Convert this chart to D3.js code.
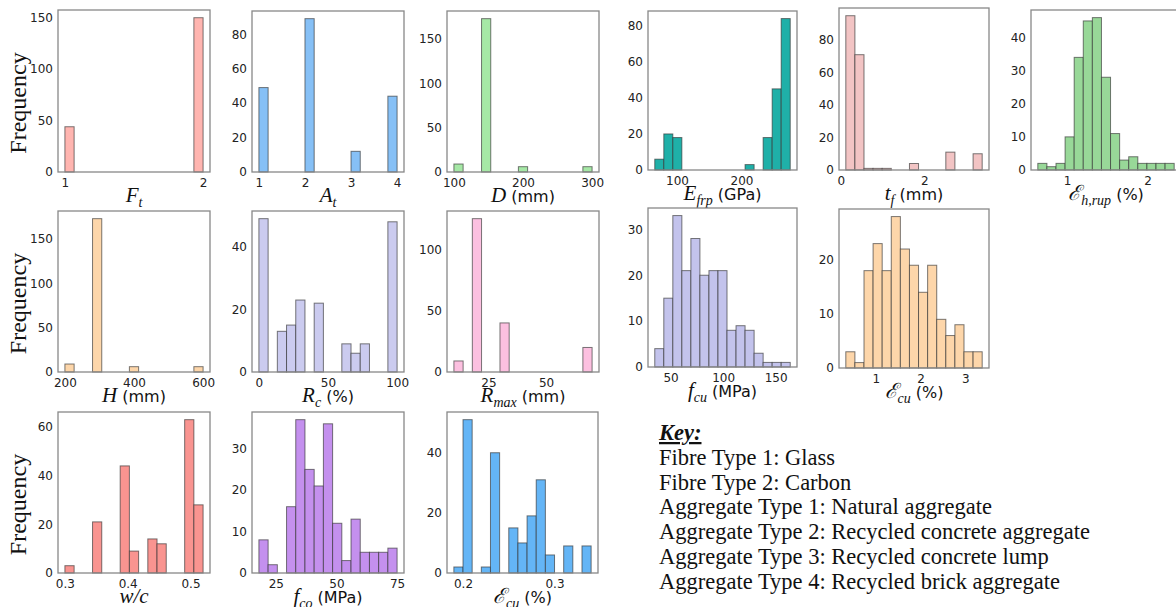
<!DOCTYPE html>
<html>
<head>
<meta charset="utf-8">
<script src="https://cdn.jsdelivr.net/npm/d3@7"></script>
<style>
  body { margin: 0; background: #fff; }
  .tick text { font-family: "DejaVu Sans", sans-serif; font-size: 12px; fill: #222; }
  .math { font-family: "Liberation Serif", serif; font-style: italic; font-size: 21px; }
  .sub { font-family: "Liberation Serif", serif; font-style: italic; font-size: 14px; }
  .unit { font-family: "DejaVu Sans", sans-serif; font-size: 16px; }
  .ylab { font-family: "Liberation Serif", serif; font-size: 24px; }
  .key { font-family: "Liberation Serif", serif; font-size: 22.5px; fill: #111; }
</style>
</head>
<body>
<svg id="fig"></svg>
<script>
// frequency per histogram bin (15 equal bins between the range ends)
const ftCounts = [44, 0, 0, 0, 0, 0, 0, 0, 0, 0, 0, 0, 0, 0, 150];
const atCounts = [49, 0, 0, 0, 0, 89, 0, 0, 0, 0, 12, 0, 0, 0, 44];
const dCounts = [9, 0, 0, 173, 0, 0, 0, 6, 0, 0, 0, 0, 0, 0, 6];
const efrpCounts = [6, 20, 18, 0, 0, 0, 0, 0, 0, 0, 3, 0, 18, 45, 84];
const tfCounts = [95, 71, 1, 1, 1, 0, 0, 4, 0, 0, 0, 11, 0, 0, 10];
const ehCounts = [2, 1, 2, 10, 34, 45, 46, 28, 11, 3, 4, 2, 2, 2, 2];
const hCounts = [9, 0, 0, 173, 0, 0, 0, 6, 0, 0, 0, 0, 0, 0, 6];
const rcCounts = [49, 0, 13, 15, 23, 0, 22, 0, 0, 9, 6, 9, 0, 0, 48];
const rmaxCounts = [9, 0, 125, 0, 0, 40, 0, 0, 0, 0, 0, 0, 0, 0, 20];
const fcuCounts = [4, 15, 33, 21, 28, 20, 21, 21, 8, 9, 8, 3, 1, 1, 1];
const ecuCounts = [3, 1, 18, 23, 18, 28, 22, 19, 14, 19, 9, 6, 8, 3, 3];
const wcCounts = [3, 0, 0, 21, 0, 0, 44, 9, 0, 14, 12, 0, 0, 63, 28];
const fcoCounts = [8, 2, 0, 16, 37, 25, 21, 36, 12, 3, 13, 5, 5, 5, 6];
const ecu2Counts = [2, 51, 0, 2, 40, 0, 15, 10, 19, 31, 6, 0, 9, 0, 9];

// min / max of each variable (outer bin edges)
const ftRange = [1, 2];
const atRange = [1, 4];
const dRange = [100, 300];
const efrpRange = [65.5, 275.5];
const tfRange = [0.12, 3.39];
const ehRange = [0.637, 2.332];
const hRange = [200, 600];
const rcRange = [0, 100];
const rmaxRange = [10, 70];
const fcuRange = [34.9, 163.9];
const ecuRange = [0.33, 3.38];
const wcRange = [0.3, 0.52];
const fcoRange = [18, 75];
const ecu2Range = [0.19, 0.34];

// tick labels
const ftX = [1, 2], ftY = [0, 50, 100, 150];
const atX = [1, 2, 3, 4], atY = [0, 20, 40, 60, 80];
const dX = [100, 200, 300], dY = [0, 50, 100, 150];
const efrpX = [100, 200], efrpY = [0, 20, 40, 60, 80];
const tfX = [0, 2], tfY = [0, 20, 40, 60, 80];
const ehX = [1, 2], ehY = [0, 10, 20, 30, 40];
const hX = [200, 400, 600], hY = [0, 50, 100, 150];
const rcX = [0, 50, 100], rcY = [0, 20, 40];
const rmaxX = [25, 50], rmaxY = [0, 50, 100];
const fcuX = [50, 100, 150], fcuY = [0, 10, 20, 30];
const ecuX = [1, 2, 3], ecuY = [0, 10, 20];
const wcX = [0.3, 0.4, 0.5], wcY = [0, 20, 40, 60];
const fcoX = [25, 50, 75], fcoY = [0, 10, 20, 30];
const ecu2X = [0.2, 0.3], ecu2Y = [0, 20, 40];

const keyLines = [
  'Fibre Type 1: Glass',
  'Fibre Type 2: Carbon',
  'Aggregate Type 1: Natural aggregate',
  'Aggregate Type 2: Recycled concrete aggregate',
  'Aggregate Type 3: Recycled concrete lump',
  'Aggregate Type 4: Recycled brick aggregate',
];

const panels = [
  { counts: ftCounts, range: ftRange, xt: ftX, yt: ftY, color: '#ffb5b0', box: [58, 10, 210, 172], label: [['F', 'math'], ['t', 'sub']] },
  { counts: atCounts, range: atRange, xt: atX, yt: atY, color: '#86c0f6', box: [252, 11, 404, 172], label: [['A', 'math'], ['t', 'sub']] },
  { counts: dCounts, range: dRange, xt: dX, yt: dY, color: '#a6e8a6', box: [447, 11, 599, 172], label: [['D', 'math'], [' (mm)', 'unit']] },
  { counts: efrpCounts, range: efrpRange, xt: efrpX, yt: efrpY, color: '#1fb0a8', box: [648, 11, 797, 170], label: [['E', 'math'], ['frp', 'sub'], [' (GPa)', 'unit']] },
  { counts: tfCounts, range: tfRange, xt: tfX, yt: tfY, color: '#f2c4c4', box: [839, 8, 989, 170], label: [['t', 'math'], ['f', 'sub'], [' (mm)', 'unit']] },
  { counts: ehCounts, range: ehRange, xt: ehX, yt: ehY, color: '#98d898', box: [1031, 10, 1181, 170], label: [['ℰ', 'math'], ['h,rup', 'sub'], [' (%)', 'unit']] },
  { counts: hCounts, range: hRange, xt: hX, yt: hY, color: '#fdd6aa', box: [58, 211, 210, 372], label: [['H', 'math'], [' (mm)', 'unit']] },
  { counts: rcCounts, range: rcRange, xt: rcX, yt: rcY, color: '#cbcbef', box: [252, 211, 404, 372], label: [['R', 'math'], ['c', 'sub'], [' (%)', 'unit']] },
  { counts: rmaxCounts, range: rmaxRange, xt: rmaxX, yt: rmaxY, color: '#fcc0e0', box: [447, 211, 599, 372], label: [['R', 'math'], ['max', 'sub'], [' (mm)', 'unit']] },
  { counts: fcuCounts, range: fcuRange, xt: fcuX, yt: fcuY, color: '#c3c3ec', box: [648, 208, 797, 367], label: [['f', 'math'], ['cu', 'sub'], [' (MPa)', 'unit']] },
  { counts: ecuCounts, range: ecuRange, xt: ecuX, yt: ecuY, color: '#fdd6aa', box: [839, 209, 989, 368], label: [['ℰ', 'math'], ['cu', 'sub'], [' (%)', 'unit']] },
  { counts: wcCounts, range: wcRange, xt: wcX, yt: wcY, color: '#f99490', box: [58, 412, 210, 573], label: [['w/c', 'math']] },
  { counts: fcoCounts, range: fcoRange, xt: fcoX, yt: fcoY, color: '#c490ee', box: [252, 412, 404, 573], label: [['f', 'math'], ['co', 'sub'], [' (MPa)', 'unit']] },
  { counts: ecu2Counts, range: ecu2Range, xt: ecu2X, yt: ecu2Y, color: '#64b5f6', box: [447, 412, 598, 573], label: [['ℰ', 'math'], ['cu', 'sub'], [' (%)', 'unit']] },
];

const svg = d3.select('#fig').attr('width', 1176).attr('height', 607);

function axisLabel(g, cx, y, parts) {
  const t = g.append('text').attr('x', cx).attr('y', y).attr('text-anchor', 'middle').attr('fill', '#111');
  let shift = 0;
  parts.forEach(([s, kind]) => {
    const sp = t.append('tspan').attr('class', kind).text(s);
    const target = kind === 'sub' ? 5 : 0;
    if (target !== shift) sp.attr('dy', target - shift);
    shift = target;
  });
}

panels.forEach((p) => {
  const [x0, y0, x1, y1] = p.box;
  const n = p.counts.length;
  const bw = (p.range[1] - p.range[0]) / n;
  const bins = p.counts.map((c, i) => ({ a: p.range[0] + i * bw, b: p.range[0] + (i + 1) * bw, c }));
  const pad = (p.range[1] - p.range[0]) * 0.05;

  const x = d3.scaleLinear().domain([p.range[0] - pad, p.range[1] + pad]).range([x0, x1]);
  const y = d3.scaleLinear().domain([0, d3.max(p.counts) * 1.05]).range([y1, y0]);

  const g = svg.append('g');

  g.selectAll('.bar')
    .data(bins.filter((d) => d.c > 0))
    .join('rect')
    .attr('class', 'bar')
    .attr('x', (d) => x(d.a))
    .attr('width', (d) => x(d.b) - x(d.a))
    .attr('y', (d) => y(d.c))
    .attr('height', (d) => y(0) - y(d.c))
    .attr('fill', p.color)
    .attr('stroke', '#333')
    .attr('stroke-opacity', 0.65)
    .attr('stroke-width', 1);

  g.append('rect')
    .attr('x', x0).attr('y', y0)
    .attr('width', x1 - x0).attr('height', y1 - y0)
    .attr('fill', 'none')
    .attr('stroke', '#888')
    .attr('stroke-width', 1.3);

  g.append('g')
    .attr('transform', `translate(${x0},0)`)
    .call(d3.axisLeft(y).tickValues(p.yt).tickSize(0).tickPadding(5).tickFormat((d) => String(d)))
    .call((a) => a.select('.domain').remove());

  g.append('g')
    .attr('transform', `translate(0,${y1})`)
    .call(d3.axisBottom(x).tickValues(p.xt).tickSize(0).tickPadding(6.5).tickFormat((d) => String(d)))
    .call((a) => a.select('.domain').remove());

  axisLabel(g, (x0 + x1) / 2, y1 + 30, p.label);
});

// Frequency labels on the first column
[panels[0], panels[6], panels[11]].forEach((p) => {
  const cy = (p.box[1] + p.box[3]) / 2 + 12;
  svg.append('text')
    .attr('class', 'ylab')
    .attr('transform', `translate(26,${cy}) rotate(-90)`)
    .attr('text-anchor', 'middle')
    .attr('fill', '#111')
    .text('Frequency');
});

// key
const key = svg.append('g').attr('transform', 'translate(659,440)');
key.append('text')
  .attr('class', 'key')
  .attr('font-weight', 'bold')
  .attr('font-style', 'italic')
  .attr('text-decoration', 'underline')
  .text('Key:');
key.selectAll('.line')
  .data(keyLines)
  .join('text')
  .attr('class', 'key line')
  .attr('y', (d, i) => 25 + i * 24.7)
  .text((d) => d);
</script>
</body>
</html>
